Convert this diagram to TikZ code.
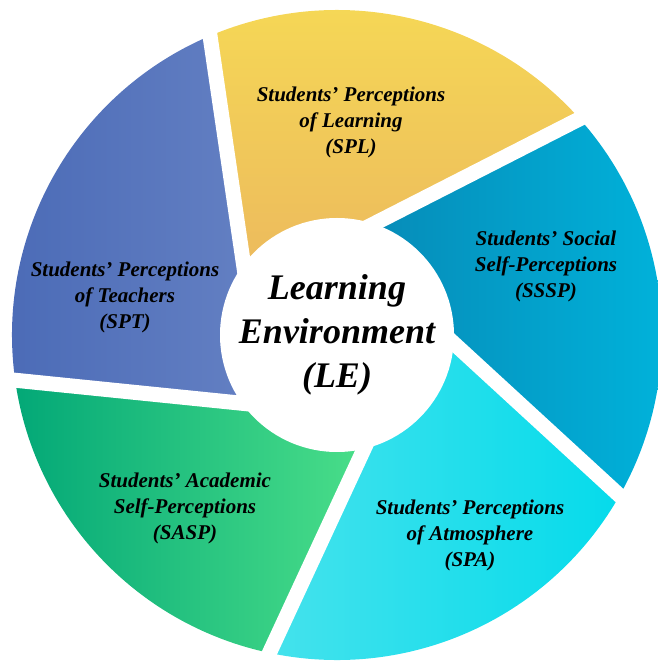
\documentclass[tikz,border=0pt]{standalone}
\usepackage{fontspec}
\setmainfont{Liberation Serif}
\usetikzlibrary{calc}
\definecolor{ylwT}{HTML}{F6DA55}
\definecolor{ylwB}{HTML}{EAB35F}
\definecolor{bluL}{HTML}{4A6AB6}
\definecolor{bluR}{HTML}{6C87C7}
\definecolor{ssL}{HTML}{0787B4}
\definecolor{ssR}{HTML}{00B5DD}
\definecolor{spaL}{HTML}{45E2EC}
\definecolor{spaR}{HTML}{05DBEB}
\definecolor{grnL}{HTML}{03A877}
\definecolor{grnR}{HTML}{4ADE89}
\begin{document}
\begin{tikzpicture}[x=1pt,y=1pt,
  gapline/.style={white, line width=15pt},
  lbl/.style={font=\fontsize{21}{26}\selectfont\bfseries\itshape, align=center, text=black, inner sep=0pt},
  ctr/.style={circle, fill=white, minimum size=234pt, inner sep=0pt, align=center,
    font=\fontsize{36}{44}\selectfont\bfseries\itshape}]
\useasboundingbox (0,0) rectangle (657,662);
\begin{scope}[shift={(337,327)}]
  % segments
  \shade[top color=ylwT, bottom color=ylwB]
    (0,0) -- (143:117) -- (113:325) arc[start angle=113, end angle=41.7, radius=325] -- (71.7:117) -- cycle;
  \shade[left color=ssL, right color=ssR]
    (0,0) -- (71.7:117) -- (41.7:325) arc[start angle=41.7, end angle=-29.6, radius=325] -- (-4:117) -- cycle;
  \shade[left color=spaL, right color=spaR]
    (0,0) -- (-4:117) -- (-29.6:325) arc[start angle=-29.6, end angle=-102, radius=325] -- (-76.6:117) -- cycle;
  \shade[left color=grnL, right color=grnR]
    (0,0) -- (-76.6:117) -- (-102:325) arc[start angle=-102, end angle=-172, radius=325] -- (-144.3:117) -- cycle;
  \shade[left color=bluL, right color=bluR]
    (0,0) -- (215.7:117) -- (188:325) arc[start angle=188, end angle=113, radius=325] -- (143:117) -- cycle;
  % gaps
  \draw[gapline] ($(143:117)!-0.15!(113:325)$) -- ($(143:117)!1.1!(113:325)$);
  \draw[gapline] ($(71.7:117)!-0.15!(41.7:325)$) -- ($(71.7:117)!1.1!(41.7:325)$);
  \draw[gapline] ($(-4:117)!-0.15!(-29.6:325)$) -- ($(-4:117)!1.1!(-29.6:325)$);
  \draw[gapline] ($(-76.6:117)!-0.15!(-102:325)$) -- ($(-76.6:117)!1.1!(-102:325)$);
  \draw[gapline] ($(-144.3:117)!-0.15!(-172:325)$) -- ($(-144.3:117)!1.1!(-172:325)$);
  % centre
  \node[ctr] (le) at (0,0) {Learning\\Environment\\(LE)};
\end{scope}
\node[lbl] (spl) at (351,540) {Students’ Perceptions\\of Learning\\(SPL)};
\node[lbl] (sssp) at (546,396) {Students’ Social\\Self-Perceptions\\(SSSP)};
\node[lbl] (spt) at (125,365) {Students’ Perceptions\\of Teachers\\(SPT)};
\node[lbl] (sasp) at (185,154) {Students’ Academic\\Self-Perceptions\\(SASP)};
\node[lbl] (spa) at (470,127) {Students’ Perceptions\\of Atmosphere\\(SPA)};
\end{tikzpicture}
\end{document}
